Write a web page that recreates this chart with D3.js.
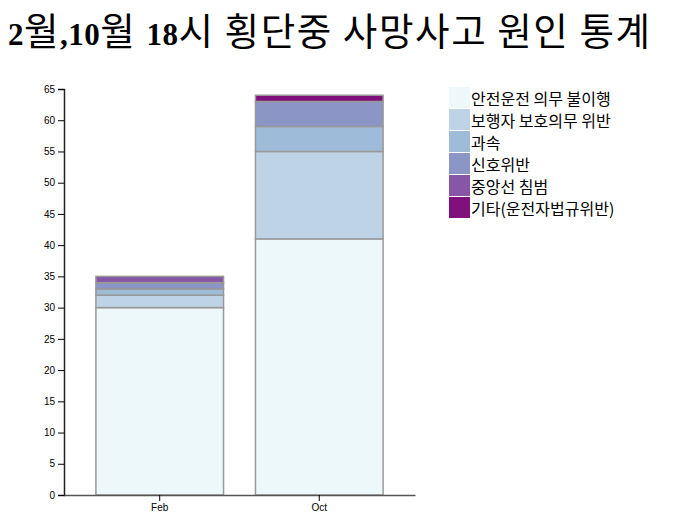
<!DOCTYPE html>
<html>
<head>
<meta charset="utf-8">
<script src="https://cdn.jsdelivr.net/npm/d3@7"></script>
<style>
  html, body { margin: 0; padding: 0; background: #fff; }
  svg { display: block; }
</style>
</head>
<body>
<svg id="chart" width="676" height="531"></svg>
<script>
// ---- data ----
const months = ["Feb", "Oct"];
const causes = ["안전운전 의무 불이행", "보행자 보호의무 위반", "과속", "신호위반", "중앙선 침범", "기타(운전자법규위반)"];
const febValues = [30, 2, 1, 1, 1, 0];
const octValues = [41, 14, 4, 4, 0, 1];
const yTicks = [0, 5, 10, 15, 20, 25, 30, 35, 40, 45, 50, 55, 60, 65];
const titleParts = [
  { t: "2", b: true }, { t: "월", b: false }, { t: ",10", b: true }, { t: "월", b: false, sp: true },
  { t: "18", b: true }, { t: "시 횡단중 사망사고 원인 통계", b: false }
];

const rows = months.map((m, i) => {
  const vals = i === 0 ? febValues : octValues;
  const r = { month: m };
  causes.forEach((c, j) => r[c] = vals[j]);
  return r;
});

const svg = d3.select("#chart");
const margin = { left: 64, top: 89 };

const x = d3.scaleBand().domain(months).range([margin.left, 415]).paddingInner(0.2).paddingOuter(0.2);
const y = d3.scaleLinear().domain([0, 65]).range([495, margin.top]);
const color = d3.scaleOrdinal().domain(causes).range(d3.schemeBuPu[6]);

const series = d3.stack().keys(causes)(rows);

// title: one text element, serif bold digits + sans hangul tspans
const serifF = "'Liberation Serif', 'Times New Roman', serif";
const sansF = "'Noto Sans CJK KR', sans-serif";
const title = svg.append("text").attr("x", 8).attr("y", 45).attr("fill", "#000");
titleParts.forEach(p => {
  const ts = title.append("tspan").text(p.t);
  if (p.b) ts.attr("font-family", serifF).attr("font-weight", "bold").attr("font-size", 31).attr("letter-spacing", 0.5);
  else ts.attr("font-family", sansF).attr("font-weight", "normal").attr("font-size", 37.5).attr("letter-spacing", 1.6);
  if (p.sp) ts.attr("dx", 0);
});
// explicit gap after second "월"
title.selectAll("tspan").filter((d, i) => titleParts[i - 1] && titleParts[i - 1].sp).attr("dx", 10);

// bars
svg.append("g").selectAll("g")
  .data(series).join("g")
  .attr("fill", d => color(d.key))
  .selectAll("rect")
  .data(d => d).join("rect")
  .attr("x", d => x(d.data.month))
  .attr("y", d => y(d[1]))
  .attr("height", d => y(d[0]) - y(d[1]))
  .attr("width", x.bandwidth())
  .attr("stroke", "#999")
  .attr("stroke-width", 1.5);

// axes
const gx = svg.append("g").attr("transform", `translate(0,${y(0)})`)
  .call(d3.axisBottom(x).tickSizeOuter(0));
gx.select(".domain").attr("stroke", "#555").attr("stroke-width", 1.5);
gx.selectAll("text").attr("font-family", "'Liberation Sans', Arial, sans-serif").attr("font-size", 10);

const gy = svg.append("g").attr("transform", `translate(${margin.left},0)`)
  .call(d3.axisLeft(y).tickValues(yTicks));
gy.select(".domain").attr("stroke", "#222").attr("stroke-width", 1.5);
gy.selectAll("text").attr("font-family", "'Liberation Sans', Arial, sans-serif").attr("font-size", 10);

// legend
const lg = svg.append("g").attr("transform", "translate(449,87)");
const li = lg.selectAll("g").data(causes).join("g")
  .attr("transform", (d, i) => `translate(0,${i * 22})`);
li.append("rect").attr("width", 21).attr("height", 21).attr("fill", d => color(d));
li.append("text").attr("x", 22).attr("y", 18)
  .attr("font-family", sansF).attr("font-size", 16)
  .attr("fill", "#000").text(d => d);
</script>
</body>
</html>
